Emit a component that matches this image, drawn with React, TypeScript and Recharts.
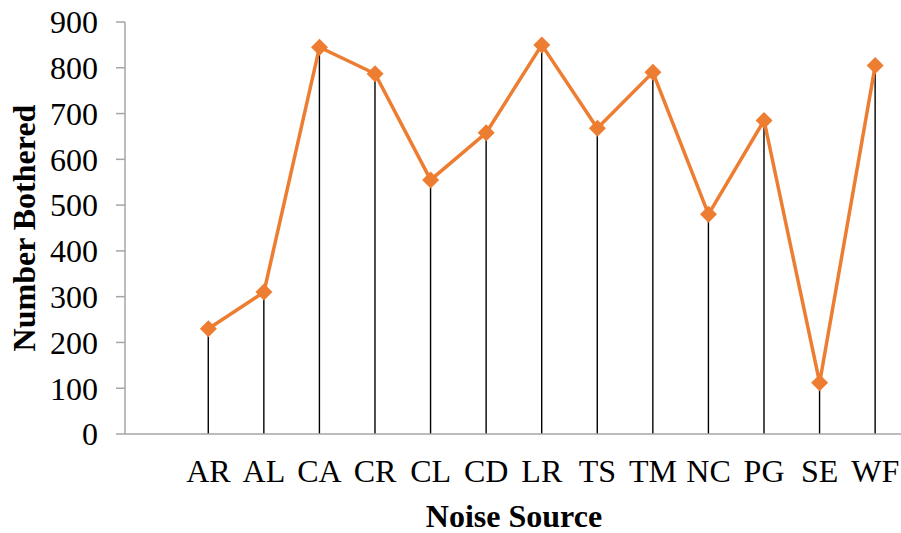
import React from "react";
import { ComposedChart, Line, Bar, XAxis, YAxis } from "recharts";

const categories = ["", "AR", "AL", "CA", "CR", "CL", "CD", "LR", "TS", "TM", "NC", "PG", "SE", "WF"];
const bothered: (number | null)[] = [null, 230, 310, 845, 787, 555, 658, 850, 668, 790, 480, 685, 112, 805];
const yTicks = [0, 100, 200, 300, 400, 500, 600, 700, 800, 900];

const data = categories.map((c, i) => ({ name: c, value: bothered[i] }));

const FONT = "'Liberation Serif', 'Times New Roman', serif";
const ORANGE = "#ED7D31";
const AXIS = "#A6A6A6";

const Diamond = (props: any) => {
  const { cx, cy, value } = props;
  if (value == null || cx == null || cy == null) return null;
  const r = 8.5;
  return (
    <path
      d={`M${cx},${cy - r}L${cx + r},${cy}L${cx},${cy + r}L${cx - r},${cy}Z`}
      fill={ORANGE}
      stroke="none"
    />
  );
};

export default function App() {
  return (
    <div style={{ position: "absolute", left: 0, top: 0, width: 901, height: 533, overflow: "hidden", background: "#fff" }}>
      <ComposedChart
        width={903}
        height={533}
        data={data}
        margin={{ top: 22, right: 0, bottom: 0, left: 0 }}
      >
        <XAxis
          dataKey="name"
          interval={0}
          axisLine={{ stroke: AXIS, strokeWidth: 1.5 }}
          tickLine={false}
          tickSize={0}
          tickMargin={25}
          height={99}
          tick={{ fontFamily: FONT, fontSize: 32, fill: "#000" }}
          label={{
            content: (p: any) => {
              const vb = p.viewBox;
              return (
                <text
                  x={vb.x + vb.width / 2}
                  y={527}
                  textAnchor="middle"
                  fontFamily={FONT}
                  fontSize={32}
                  fontWeight="bold"
                  fill="#000"
                >
                  Noise Source
                </text>
              );
            },
          }}
        />
        <YAxis
          domain={[0, 900]}
          ticks={yTicks}
          interval={0}
          width={125}
          axisLine={{ stroke: AXIS, strokeWidth: 1.5 }}
          tickLine={{ stroke: AXIS, strokeWidth: 1.5 }}
          tickSize={9}
          tickMargin={18}
          tick={{ fontFamily: FONT, fontSize: 32, fill: "#000" }}
          label={{
            content: (p: any) => {
              const vb = p.viewBox;
              const cy = vb.y + vb.height / 2;
              return (
                <text
                  x={35}
                  y={cy}
                  transform={`rotate(-90, 35, ${cy})`}
                  textAnchor="middle"
                  fontFamily={FONT}
                  fontSize={32}
                  fontWeight="bold"
                  fill="#000"
                >
                  Number Bothered
                </text>
              );
            },
          }}
        />
        <Line
          dataKey="value"
          stroke={ORANGE}
          strokeWidth={3.5}
          dot={<Diamond />}
          activeDot={false}
          isAnimationActive={false}
        />
        <Bar dataKey="value" barSize={1.4} fill="#000" isAnimationActive={false} />
      </ComposedChart>
    </div>
  );
}
